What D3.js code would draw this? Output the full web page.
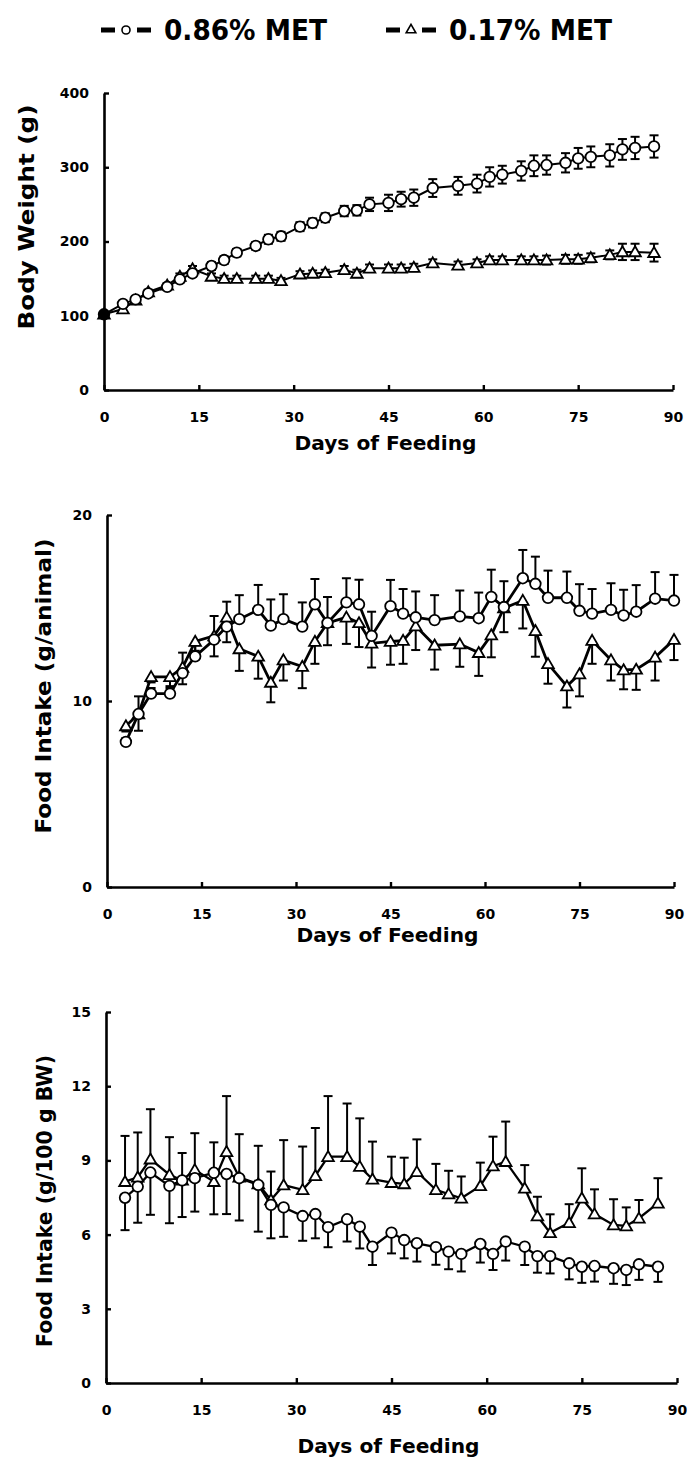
<!DOCTYPE html>
<html>
<head>
<meta charset="utf-8">
<script src="https://cdn.jsdelivr.net/npm/d3@7"></script>
<style>
  body { margin: 0; background: #fff; }
  svg { display: block; font-family: "DejaVu Sans", "Liberation Sans", sans-serif; font-weight: bold; }
</style>
</head>
<body>
<script>
// Series names and shared x ticks
const seriesNames = ["0.86% MET", "0.17% MET"];
const xTickValues = [0, 15, 30, 45, 60, 75, 90];

// Panel 1: body weight (g)
const bwDays = [0, 3, 5, 7, 10, 12, 14, 17, 19, 21, 24, 26, 28, 31, 33, 35, 38, 40, 42, 45, 47, 49, 52, 56, 59, 61, 63, 66, 68, 70, 73, 75, 77, 80, 82, 84, 87];
const bwHigh = [102, 116, 122, 130, 139, 149, 157, 167, 175, 185, 194, 203, 207, 220, 225, 232, 241, 242, 250, 252, 257, 259, 272, 275, 278, 287, 290, 295, 302, 303, 306, 312, 314, 316, 324, 326, 328];
const bwHighErr = [2, 3, 3, 3, 4, 4, 4, 5, 5, 5, 5, 6, 6, 6, 6, 6, 7, 7, 9, 11, 10, 11, 12, 12, 12, 13, 12, 13, 14, 13, 13, 14, 14, 15, 14, 15, 15];
const bwLow = [102, 109, 121, 132, 141, 153, 163, 153, 150, 150, 150, 150, 147, 156, 157, 158, 162, 157, 164, 164, 164, 165, 171, 168, 171, 175, 175, 175, 175, 175, 176, 176, 178, 182, 186, 186, 185];
const bwLowErr = [2, 3, 3, 3, 3, 4, 4, 4, 4, 4, 4, 4, 4, 4, 4, 4, 5, 5, 5, 5, 5, 5, 5, 5, 5, 5, 5, 5, 5, 6, 6, 6, 6, 6, 11, 11, 12];
const bwTicks = [0, 100, 200, 300, 400];

// Panel 2: food intake (g/animal)
const fiDays = [3, 5, 7, 10, 12, 14, 17, 19, 21, 24, 26, 28, 31, 33, 35, 38, 40, 42, 45, 47, 49, 52, 56, 59, 61, 63, 66, 68, 70, 73, 75, 77, 80, 82, 84, 87, 90];
const fiHigh = [7.8, 9.3, 10.4, 10.4, 11.5, 12.4, 13.3, 14.0, 14.4, 14.9, 14.05, 14.4, 14.0, 15.2, 14.2, 15.3, 15.2, 13.5, 15.1, 14.7, 14.5, 14.35, 14.55, 14.45, 15.6, 15.05, 16.6, 16.3, 15.55, 15.55, 14.85, 14.7, 14.9, 14.6, 14.8, 15.5, 15.4];
const fiHighErr = [0.2, 0.95, 0.3, 0.3, 1.1, 0.6, 1.27, 1.34, 1.29, 1.34, 1.41, 1.34, 1.3, 1.36, 1.39, 1.3, 1.32, 1.3, 1.41, 1.32, 1.39, 1.34, 1.39, 1.38, 1.46, 1.39, 1.52, 1.46, 1.46, 1.41, 1.43, 1.32, 1.43, 1.38, 1.43, 1.43, 1.38];
const fiLow = [8.66, 9.3, 11.3, 11.3, 11.8, 13.2, 13.5, 14.5, 12.8, 12.4, 11.0, 12.2, 11.85, 13.2, 14.2, 14.5, 14.2, 13.1, 13.2, 13.25, 14.03, 13.0, 13.06, 12.6, 13.55, 15.0, 15.4, 13.78, 12.0, 10.8, 11.45, 13.25, 12.2, 11.67, 11.7, 12.35, 13.3];
const fiLowErr = [0.3, 0.9, 0.3, 0.5, 0.9, 0.5, 1.1, 1.34, 1.18, 1.2, 1.07, 1.1, 1.16, 1.2, 1.2, 1.43, 1.3, 1.3, 1.25, 1.25, 1.29, 1.31, 1.22, 1.25, 1.2, 1.3, 1.5, 1.4, 1.07, 1.15, 1.2, 1.25, 1.1, 1.04, 1.1, 1.25, 1.1];
const fiTicks = [0, 10, 20];

// Panel 3: food intake (g/100 g BW)
const fbDays = [3, 5, 7, 10, 12, 14, 17, 19, 21, 24, 26, 28, 31, 33, 35, 38, 40, 42, 45, 47, 49, 52, 54, 56, 59, 61, 63, 66, 68, 70, 73, 75, 77, 80, 82, 84, 87];
const fbHigh = [7.49, 7.94, 8.51, 7.97, 8.19, 8.28, 8.5, 8.45, 8.28, 8.01, 7.2, 7.1, 6.75, 6.83, 6.3, 6.62, 6.32, 5.51, 6.08, 5.78, 5.65, 5.49, 5.31, 5.22, 5.62, 5.22, 5.72, 5.51, 5.13, 5.13, 4.84, 4.7, 4.73, 4.64, 4.57, 4.8, 4.7];
const fbHighErr = [1.31, 1.46, 1.71, 1.51, 1.48, 1.35, 1.68, 1.62, 1.71, 1.89, 1.35, 1.19, 1.0, 0.98, 0.81, 0.9, 0.88, 0.74, 0.84, 0.74, 0.74, 0.71, 0.71, 0.71, 0.75, 0.65, 0.77, 0.74, 0.67, 0.7, 0.65, 0.65, 0.63, 0.63, 0.61, 0.63, 0.61];
const fbLow = [8.14, 8.32, 9.05, 8.42, 8.2, 8.62, 8.14, 9.35, 8.32, 8.05, 7.4, 8.0, 7.81, 8.38, 9.15, 9.15, 8.75, 8.24, 8.1, 8.05, 8.54, 7.81, 7.64, 7.47, 7.97, 8.77, 8.95, 7.87, 6.75, 6.07, 6.48, 7.47, 6.83, 6.39, 6.35, 6.66, 7.27];
const fbLowErr = [1.85, 1.81, 2.02, 1.52, 1.1, 1.48, 1.59, 2.25, 1.74, 1.54, 1.15, 1.82, 1.75, 1.93, 2.45, 2.15, 1.95, 1.52, 1.05, 1.06, 1.31, 1.05, 0.94, 0.88, 0.94, 1.19, 1.62, 0.94, 0.78, 0.75, 0.75, 1.21, 1.0, 1.04, 0.75, 0.74, 1.01];
const fbTicks = [0, 3, 6, 9, 12, 15];

const width = 687;
const height = 1469;

const svg = d3.select("body")
  .append("svg")
  .attr("width", width)
  .attr("height", height);

svg.append("rect").attr("width", width).attr("height", height).attr("fill", "#fff");

const triangle = d3.symbol().type(d3.symbolTriangle).size(58);

// dir: 0 = both sides, 1 = up only, -1 = down only
function toPoints(days, vals, errs) {
  return days.map((d, i) => ({ day: d, v: vals[i], e: errs[i] }));
}

const panels = [
  {
    top: 93, bottom: 390, left: 104, right: 673, yTicks: bwTicks,
    circles: toPoints(bwDays, bwHigh, bwHighErr), circleDir: 0,
    tris: toPoints(bwDays, bwLow, bwLowErr), triDir: 0,
    yTitle: "Body Weight (g)", yTitleX: 26, yTitleY: 217, yTitleLen: 225,
    xTitleY: 450, lineW: 2
  },
  {
    top: 515, bottom: 887, left: 107, right: 674, yTicks: fiTicks,
    circles: toPoints(fiDays, fiHigh, fiHighErr), circleDir: 1,
    tris: toPoints(fiDays, fiLow, fiLowErr), triDir: -1,
    yTitle: "Food Intake (g/animal)", yTitleX: 43, yTitleY: 686, yTitleLen: 295,
    xTitleY: 942, lineW: 2.8
  },
  {
    top: 1012, bottom: 1383, left: 106, right: 677, yTicks: fbTicks,
    circles: toPoints(fbDays, fbHigh, fbHighErr), circleDir: -1,
    tris: toPoints(fbDays, fbLow, fbLowErr), triDir: 1,
    yTitle: "Food Intake (g/100 g BW)", yTitleX: 44, yTitleY: 1201, yTitleLen: 292,
    xTitleY: 1453, lineW: 2.3
  }
];

panels.forEach((p) => {
  const x = d3.scaleLinear().domain([0, 90]).range([p.left, p.right]);
  const y = d3.scaleLinear().domain([0, d3.max(p.yTicks)]).range([p.bottom, p.top]);
  const g = svg.append("g");

  // axes, ticks pointing inward
  const yAxis = g.append("g")
    .attr("transform", `translate(${p.left},0)`)
    .call(d3.axisLeft(y).tickValues(p.yTicks).tickSize(-5).tickSizeOuter(0).tickPadding(15));
  const xAxis = g.append("g")
    .attr("transform", `translate(0,${p.bottom})`)
    .call(d3.axisBottom(x).tickValues(xTickValues).tickSize(-5).tickSizeOuter(0).tickPadding(22));

  [yAxis, xAxis].forEach((a) => {
    a.select(".domain").attr("stroke", "#000").attr("stroke-width", 2.6);
    a.selectAll(".tick line").attr("stroke", "#000").attr("stroke-width", 2.4);
    a.selectAll(".tick text")
      .attr("fill", "#000")
      .style("font-family", "DejaVu Sans")
      .style("font-weight", "bold")
      .style("font-size", "14px");
  });

  // axis titles
  g.append("text")
    .attr("x", (p.left + p.right) / 2 - 3)
    .attr("y", p.xTitleY)
    .attr("text-anchor", "middle")
    .attr("textLength", 182)
    .attr("lengthAdjust", "spacingAndGlyphs")
    .style("font-size", "20px")
    .text("Days of Feeding");

  g.append("text")
    .attr("transform", `translate(${p.yTitleX},${p.yTitleY}) rotate(-90)`)
    .attr("text-anchor", "middle")
    .attr("dy", "0.36em")
    .attr("textLength", p.yTitleLen)
    .attr("lengthAdjust", "spacingAndGlyphs")
    .style("font-size", "22px")
    .text(p.yTitle);

  const line = d3.line().x((d) => x(d.day)).y((d) => y(d.v));

  // connecting lines
  [p.tris, p.circles].forEach((pts) => {
    g.append("path")
      .datum(pts)
      .attr("d", line)
      .attr("fill", "none")
      .attr("stroke", "#000")
      .attr("stroke-width", p.lineW);
  });

  // error bars
  function errBars(pts, dir) {
    const eb = g.append("g").attr("stroke", "#000").attr("stroke-width", 2);
    const lo = (d) => (dir === 1 ? d.v : d.v - d.e);
    const hi = (d) => (dir === -1 ? d.v : d.v + d.e);
    eb.selectAll("line.v").data(pts).join("line")
      .attr("x1", (d) => x(d.day)).attr("x2", (d) => x(d.day))
      .attr("y1", (d) => y(lo(d))).attr("y2", (d) => y(hi(d)));
    if (dir >= 0) {
      eb.selectAll("line.top").data(pts).join("line").attr("class", "top")
        .attr("x1", (d) => x(d.day) - 4.5).attr("x2", (d) => x(d.day) + 4.5)
        .attr("y1", (d) => y(hi(d))).attr("y2", (d) => y(hi(d)));
    }
    if (dir <= 0) {
      eb.selectAll("line.bot").data(pts).join("line").attr("class", "bot")
        .attr("x1", (d) => x(d.day) - 4.5).attr("x2", (d) => x(d.day) + 4.5)
        .attr("y1", (d) => y(lo(d))).attr("y2", (d) => y(lo(d)));
    }
  }
  errBars(p.tris, p.triDir);
  errBars(p.circles, p.circleDir);

  // markers
  g.append("g").selectAll("path").data(p.tris).join("path")
    .attr("d", triangle)
    .attr("transform", (d) => `translate(${x(d.day)},${y(d.v) + 1})`)
    .attr("fill", (d) => (d.day === 0 ? "#000" : "#fff"))
    .attr("stroke", "#000")
    .attr("stroke-width", 1.8);

  g.append("g").selectAll("circle").data(p.circles).join("circle")
    .attr("cx", (d) => x(d.day))
    .attr("cy", (d) => y(d.v))
    .attr("r", 5.3)
    .attr("fill", (d) => (d.day === 0 ? "#000" : "#fff"))
    .attr("stroke", "#000")
    .attr("stroke-width", 1.8);
});

// legend at the top
const legendY = 30;
const legendX = [101, 386];
seriesNames.forEach((name, i) => {
  const lg = svg.append("g").attr("transform", `translate(${legendX[i]},${legendY})`);
  lg.append("rect").attr("x", 0).attr("y", -2.5).attr("width", 14).attr("height", 5).attr("fill", "#000");
  lg.append("rect").attr("x", 36).attr("y", -2.5).attr("width", 14).attr("height", 5).attr("fill", "#000");
  if (i === 0) {
    lg.append("circle").attr("cx", 25).attr("cy", 0).attr("r", 4)
      .attr("fill", "#fff").attr("stroke", "#000").attr("stroke-width", 1.6);
  } else {
    lg.append("path").attr("d", d3.symbol().type(d3.symbolTriangle).size(40))
      .attr("transform", "translate(25,0)")
      .attr("fill", "#fff").attr("stroke", "#000").attr("stroke-width", 1.6);
  }
  lg.append("text")
    .attr("x", 63)
    .attr("y", 0)
    .attr("dy", "0.36em")
    .attr("textLength", 163)
    .attr("lengthAdjust", "spacingAndGlyphs")
    .style("font-size", "29px")
    .text(name);
});
</script>
</body>
</html>
